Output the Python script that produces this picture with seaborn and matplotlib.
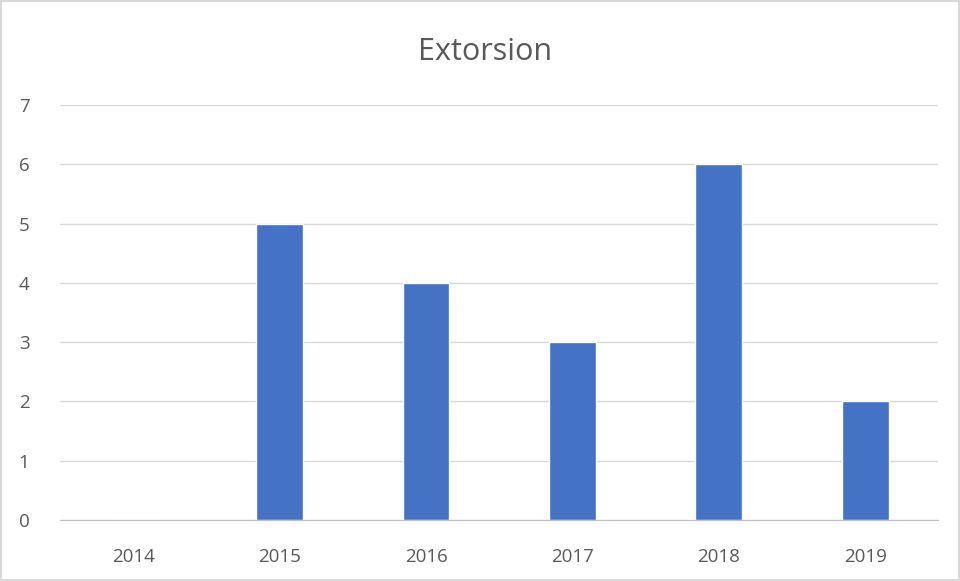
import matplotlib
matplotlib.use("Agg")
import pandas as pd
import seaborn as sns
import matplotlib.pyplot as plt

# Chart data
years = ["2014", "2015", "2016", "2017", "2018", "2019"]
counts = [0, 5, 4, 3, 6, 2]

df = pd.DataFrame({"year": years, "count": counts})

sns.set_style("white")
plt.rcParams['font.family'] = ['Open Sans', 'DejaVu Sans']

fig = plt.figure(figsize=(9.6, 5.81), dpi=100)
fig.patch.set_edgecolor("#d9d9d9")
fig.patch.set_linewidth(1.5)
ax = fig.add_axes([0.0625, 0.105, 0.915, 0.714])

sns.barplot(data=df, x="year", y="count", color="#4472C4",
            width=0.32, saturation=1, ax=ax)

ax.set_ylim(0, 7)
ax.set_yticks(range(0, 8))
ax.grid(axis="y", color="#d9d9d9", linewidth=1)
ax.set_axisbelow(True)
for s in ["top", "right", "left"]:
    ax.spines[s].set_visible(False)
ax.spines["bottom"].set_color("#bfbfbf")
ax.tick_params(axis="both", length=0, labelsize=13.5, colors="#595959")
ax.tick_params(axis="x", pad=20)
ax.tick_params(axis="y", pad=22)
ax.set_xlabel("")
ax.set_ylabel("")

fig.text(0.505, 0.91, "Extorsion", ha="center", va="center",
         fontsize=22, color="#595959")

fig.savefig("out.png", dpi=100, edgecolor=fig.get_edgecolor())
